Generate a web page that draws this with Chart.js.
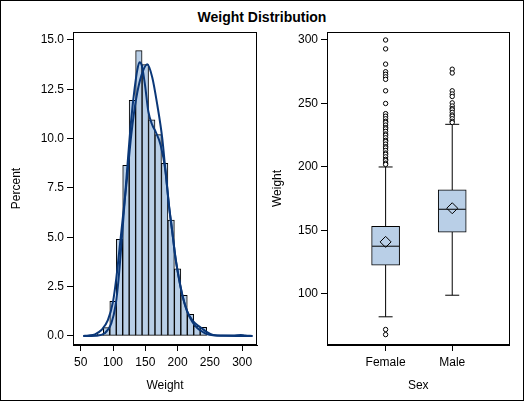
<!DOCTYPE html>
<html>
<head>
<meta charset="utf-8">
<script src="https://cdn.jsdelivr.net/npm/chart.js@4.4.1/dist/chart.umd.min.js"></script>
<style>
  html, body { margin: 0; padding: 0; background: #fff; }
  #frame { position: absolute; left: 0; top: 0; width: 524px; height: 401px; box-sizing: border-box; border: 1px solid #000; pointer-events: none; }
  #title { position: absolute; left: 0; top: 9px; width: 524px; text-align: center; font: bold 14px "Liberation Sans", Arial, sans-serif; color: #000; }
  canvas { position: absolute; top: 0; }
  #histChart { left: 0; }
  #boxChart { left: 262px; }
</style>
</head>
<body>
<div id="title">Weight Distribution</div>
<canvas id="histChart" width="262" height="401"></canvas>
<canvas id="boxChart" width="262" height="401"></canvas>
<div id="frame"></div>
<script>
// histogram bins (percent)
const binCenters = [80, 90, 100, 110, 120, 130, 140, 150, 160, 170, 180, 190, 200, 210, 220, 230, 240];
const binPercents = [0.08, 0.42, 1.75, 4.9, 8.65, 11.94, 14.46, 13.75, 10.95, 10.2, 8.75, 5.87, 3.4, 2.06, 1.1, 0.5, 0.44];

// normal curve
const normalX = [54, 62, 72, 82, 92, 100, 105, 110, 115.5, 121.7, 128.3, 136, 144, 153, 160.8, 168.6, 176.3, 181.4, 186.6, 191.7, 196.9, 202.1, 207.2, 214.9, 222.7, 230.4, 236.6, 245, 255, 270, 316];
const normalY = [0, 0.02, 0.08, 0.3, 0.8, 1.74, 2.9, 4.4, 6.1, 8.0, 10.2, 12.05, 13.2, 13.77, 13.1, 11.7, 10.0, 8.3, 6.64, 5.29, 3.94, 2.92, 2.08, 1.23, 0.72, 0.4, 0.25, 0.1, 0.03, 0.01, 0];

// kernel curve
const kernelX = [54, 74, 87, 97.4, 104, 108.7, 112.9, 118, 123.2, 128.3, 133.5, 137.6, 141, 144.4, 149.5, 154.7, 160.8, 165.9, 173.7, 181.4, 186.6, 191.7, 196.9, 202.1, 207.2, 214.9, 222.7, 230.4, 237, 245, 255, 270, 285, 298, 305, 316];
const kernelY = [0, 0.01, 0.13, 0.64, 1.57, 2.92, 4.61, 6.81, 9.0, 11.0, 12.55, 13.48, 13.87, 13.73, 12.72, 11.37, 10.69, 10.35, 9.68, 8.33, 6.6, 5.3, 3.9, 2.9, 2.1, 1.25, 0.8, 0.55, 0.4, 0.2, 0.05, 0.02, 0.02, 0.05, 0.02, 0];

const histXTicks = [50, 100, 150, 200, 250, 300];
const histYTicks = [0, 2.5, 5, 7.5, 10, 12.5, 15];

// box plot stats
const sexLabels = ['Female', 'Male'];
const boxQ1 = [122.6, 148.6];
const boxMedian = [137.6, 166.7];
const boxQ3 = [153.3, 182.1];
const boxMean = [141, 167.5];
const whiskerLow = [82, 99];
const whiskerHigh = [200, 233.6];
const femaleOutliers = [300, 293, 281, 275, 273, 271, 269, 260, 250, 242, 240, 238, 236, 235, 233, 231, 230, 228, 226, 225, 223, 221, 220, 218, 216, 215, 213, 211, 210, 208, 206, 205, 203, 202, 72, 68];
const maleOutliers = [277, 274, 260, 257.5, 255.5, 250.5, 248, 246, 245, 243, 241, 240, 238, 236, 235];
const boxYTicks = [100, 150, 200, 250, 300];

const FONT = "'Liberation Sans', Arial, sans-serif";
const FILL = '#b9cfe7';
const LINE = '#0a3778';

Chart.defaults.font.family = FONT;
Chart.defaults.font.size = 12;
Chart.defaults.color = '#000';

const framePlugin = {
    id: 'frame',
    afterDraw(chart) {
        const a = chart.chartArea;
        const ctx = chart.ctx;
        ctx.save();
        ctx.strokeStyle = '#000';
        ctx.lineWidth = 1;
        ctx.strokeRect(Math.round(a.left) + 0.5, Math.round(a.top) + 0.5, Math.round(a.right - a.left) - 1, Math.round(a.bottom - a.top) - 1);
        ctx.restore();
    }
};

function axisStyle(extra) {
    return Object.assign({
        offset: false,
        border: { display: true, color: '#000' },
        grid: { offset: false, drawOnChartArea: false, drawTicks: true, tickLength: 6, color: '#000' },
    }, extra);
}

const histCtx = document.getElementById('histChart').getContext('2d');
new Chart(histCtx, {
    type: 'bar',
    data: {
        datasets: [
            {
                type: 'line',
                data: kernelX.map((x, i) => ({ x: x, y: kernelY[i] })),
                borderColor: LINE,
                borderWidth: 2,
                pointRadius: 0,
                cubicInterpolationMode: 'monotone',
                order: 0
            },
            {
                type: 'line',
                data: normalX.map((x, i) => ({ x: x, y: normalY[i] })),
                borderColor: LINE,
                borderWidth: 2,
                pointRadius: 0,
                cubicInterpolationMode: 'monotone',
                order: 1
            },
            {
                type: 'bar',
                data: binCenters.map((x, i) => ({ x: x, y: binPercents[i] })),
                backgroundColor: FILL,
                borderColor: '#000',
                borderWidth: 1,
                borderSkipped: false,
                barPercentage: 1,
                categoryPercentage: 1,
                order: 2
            }
        ]
    },
    options: {
        responsive: false,
        animation: false,
        devicePixelRatio: 1,
        layout: { padding: { top: 32, right: 5, left: 0, bottom: 0 } },
        plugins: { legend: { display: false }, tooltip: { enabled: false } },
        scales: {
            x: axisStyle({
                type: 'linear',
                min: 38,
                max: 323,
                afterBuildTicks: s => { s.ticks = histXTicks.map(v => ({ value: v })); },
                afterFit: s => { s.height = 56; },
                ticks: { padding: 4, callback: v => String(v) },
                title: { display: true, text: 'Weight', padding: { top: 0, bottom: 8 } }
            }),
            y: axisStyle({
                type: 'linear',
                min: -0.46,
                max: 15.4,
                afterBuildTicks: s => { s.ticks = histYTicks.map(v => ({ value: v })); },
                afterFit: s => { s.width = 73; },
                ticks: { padding: 3, callback: v => v.toFixed(1) },
                title: { display: true, text: 'Percent', padding: { top: 9, bottom: 0 } }
            })
        }
    },
    plugins: [framePlugin]
});

const boxCtx = document.getElementById('boxChart').getContext('2d');
const whiskerData = [];
sexLabels.forEach((s, i) => {
    whiskerData.push({ x: i, y: whiskerLow[i] }, { x: i, y: whiskerHigh[i] }, { x: i + 0.5, y: null });
});
const capData = [];
sexLabels.forEach((s, i) => {
    capData.push({ x: i, y: whiskerLow[i] }, { x: i, y: whiskerHigh[i] });
});
const outlierData = femaleOutliers.map(v => ({ x: 0, y: v })).concat(maleOutliers.map(v => ({ x: 1, y: v })));

new Chart(boxCtx, {
    type: 'bar',
    data: {
        datasets: [
            {
                type: 'scatter',
                data: outlierData,
                pointStyle: 'circle',
                pointRadius: 2.2,
                borderColor: '#000',
                borderWidth: 1,
                backgroundColor: '#fff',
                order: 0
            },
            {
                type: 'scatter',
                data: sexLabels.map((s, i) => ({ x: i, y: boxMean[i] })),
                pointStyle: 'rectRot',
                pointRadius: 5.5,
                borderColor: '#000',
                borderWidth: 1,
                backgroundColor: 'rgba(0,0,0,0)',
                order: 1
            },
            {
                type: 'scatter',
                data: sexLabels.map((s, i) => ({ x: i, y: boxMedian[i] })),
                pointStyle: 'line',
                pointRadius: 13.5,
                borderColor: '#000',
                borderWidth: 1,
                order: 2
            },
            {
                type: 'bar',
                data: sexLabels.map((s, i) => ({ x: i, y: [boxQ1[i], boxQ3[i]] })),
                backgroundColor: FILL,
                borderColor: '#000',
                borderWidth: 1,
                borderSkipped: false,
                barThickness: 28,
                order: 3
            },
            {
                type: 'scatter',
                data: capData,
                pointStyle: 'line',
                pointRadius: 7,
                borderColor: '#000',
                borderWidth: 1,
                order: 4
            },
            {
                type: 'line',
                data: whiskerData,
                borderColor: '#000',
                borderWidth: 1,
                pointRadius: 0,
                spanGaps: false,
                order: 5
            }
        ]
    },
    options: {
        responsive: false,
        animation: false,
        devicePixelRatio: 1,
        layout: { padding: { top: 32, right: 11, left: 0, bottom: 0 } },
        plugins: { legend: { display: false }, tooltip: { enabled: false } },
        scales: {
            x: axisStyle({
                type: 'linear',
                min: -0.88,
                max: 1.86,
                afterBuildTicks: s => { s.ticks = sexLabels.map((l, i) => ({ value: i })); },
                afterFit: s => { s.height = 56; },
                ticks: { padding: 4, callback: v => sexLabels[v] },
                title: { display: true, text: 'Sex', padding: { top: 0, bottom: 8 } }
            }),
            y: axisStyle({
                type: 'linear',
                min: 59.8,
                max: 306.3,
                afterBuildTicks: s => { s.ticks = boxYTicks.map(v => ({ value: v })); },
                afterFit: s => { s.width = 65; },
                ticks: { padding: 3, callback: v => String(v) },
                title: { display: true, text: 'Weight', padding: { top: 8, bottom: 0 } }
            })
        }
    },
    plugins: [framePlugin]
});
</script>
</body>
</html>
